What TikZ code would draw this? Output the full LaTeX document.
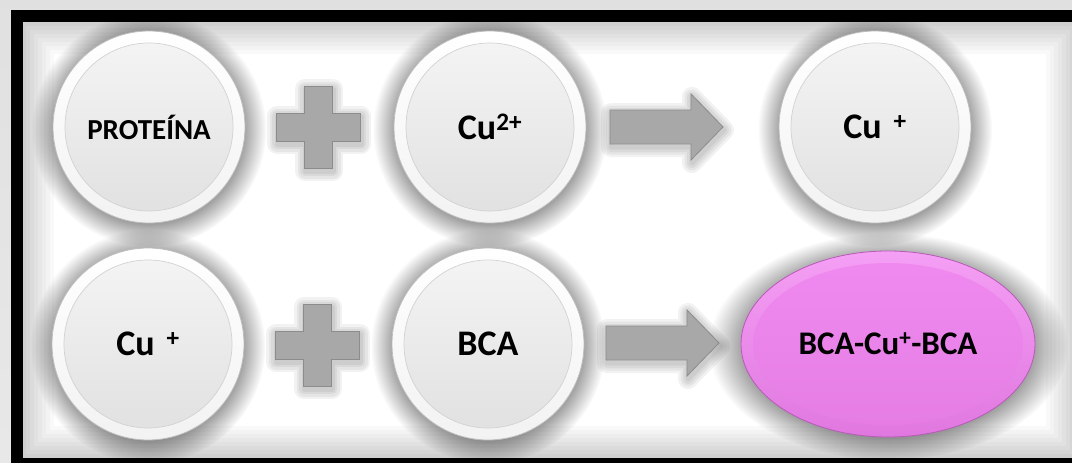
\documentclass[tikz,border=0pt]{standalone}
\usepackage{fontspec}
\setmainfont{Carlito}
\usetikzlibrary{shapes.geometric,shadows,fadings}
\definecolor{ringedge}{HTML}{BDBDBD}
\definecolor{innertop}{HTML}{F5F5F5}
\definecolor{innerbot}{HTML}{E0E0E0}
\definecolor{blockfill}{HTML}{A8A8A8}
\definecolor{blockedge}{HTML}{8C8C8C}
\definecolor{pinkring}{HTML}{F59FF5}
\definecolor{pinkringbot}{HTML}{E077E0}
\definecolor{pinktop}{HTML}{F08AF0}
\definecolor{pinkbot}{HTML}{E47CE4}
\definecolor{pinkedge}{HTML}{B85AB8}
\tikzset{
  softglow/.style={circular drop shadow={shadow scale=1.22, shadow xshift=0pt, shadow yshift=-2pt,
      fill=black, opacity=0.38, path fading={circle with fuzzy edge 20 percent}}},
  ball/.style={circle, minimum size=192pt, inner sep=0pt, draw=ringedge, line width=0.8pt,
    top color=white, bottom color=gray!10,
    softglow,
    path picture={
      \shade[top color=innertop, bottom color=innerbot] (path picture bounding box.center) circle (84pt);
      \draw[gray!35, line width=0.7pt] (path picture bounding box.center) circle (84pt);
    },
    font=\fontsize{36}{40}\selectfont\bfseries},
  egg/.style={ellipse, minimum width=294pt, minimum height=186pt, inner sep=0pt, draw=pinkedge, line width=0.8pt,
    top color=pinkring, bottom color=pinkringbot,
    softglow,
    path picture={
      \shade[top color=pinktop, bottom color=pinkbot] (path picture bounding box.center) ellipse [x radius=135pt, y radius=81pt];
    },
    font=\fontsize{33}{38}\selectfont\bfseries},
  blockshape/.style={fill=blockfill, draw=blockedge, line width=0.8pt},
  softshade/.style={draw=black, opacity=0.05, line join=round, line width=#1},
  plussign/.pic={
    \def\plusshape{(-42,-14) -- (-14,-14) -- (-14,-41) -- (14,-41) -- (14,-14) -- (42,-14)
      -- (42,14) -- (14,14) -- (14,41) -- (-14,41) -- (-14,14) -- (-42,14) -- cycle}
    \foreach \w in {20,15,10,5} {\path[softshade=\w pt, shift={(1,3)}] \plusshape;}
    \path[blockshape] \plusshape;
  },
  blockarrow/.pic={
    \def\arrowshape{(-56,-17) -- (25,-17) -- (25,-33) -- (57,0) -- (25,33) -- (25,17) -- (-56,17) -- cycle}
    \foreach \w in {20,15,10,5} {\path[softshade=\w pt, shift={(1,3)}] \arrowshape;}
    \path[blockshape] \arrowshape;
  }
}
\begin{document}
\begin{tikzpicture}[x=1pt,y=-1pt]
\useasboundingbox (0,0) rectangle (1072,463);
\clip (0,0) rectangle (1072,463);
% outer background
\shade[top color=gray!24, bottom color=gray!18] (0,0) rectangle (1072,463);
% inside frame
\fill[white] (16,16) rectangle (1100,470);
\begin{scope}
  \clip (22,22) rectangle (1072,458);
  \foreach \w in {64,56,...,8} {\draw[black, opacity=0.022, line width=\w pt] (22,22) rectangle (1078,458);}
\end{scope}
% frame
\draw[black, line width=12pt] (16.5,16) rectangle (1100,464);

% row 1
\node[ball, font=\fontsize{29}{33}\selectfont\bfseries] (prot) at (149,127) {PROTEÍNA};
\node[ball] (cu2) at (490,127) {Cu\textsuperscript{2+}};
\node[ball] (cu1a) at (875,127) {Cu\hspace{12pt}\textsuperscript{+}};
% row 2
\node[ball] (cu1b) at (148,344) {Cu\hspace{12pt}\textsuperscript{+}};
\node[ball] (bca) at (488,344) {BCA};
\node[egg] (cplx) at (888,344) {BCA-Cu\textsuperscript{+}-BCA};

% operators
\coordinate (plus1) at (318,127);
\coordinate (plus2) at (317,345);
\coordinate (arr1) at (666,127);
\coordinate (arr2) at (662,343);
\pic at (plus1) {plussign};
\pic at (plus2) {plussign};
\pic at (arr1) {blockarrow};
\pic at (arr2) {blockarrow};
\end{tikzpicture}
\end{document}
